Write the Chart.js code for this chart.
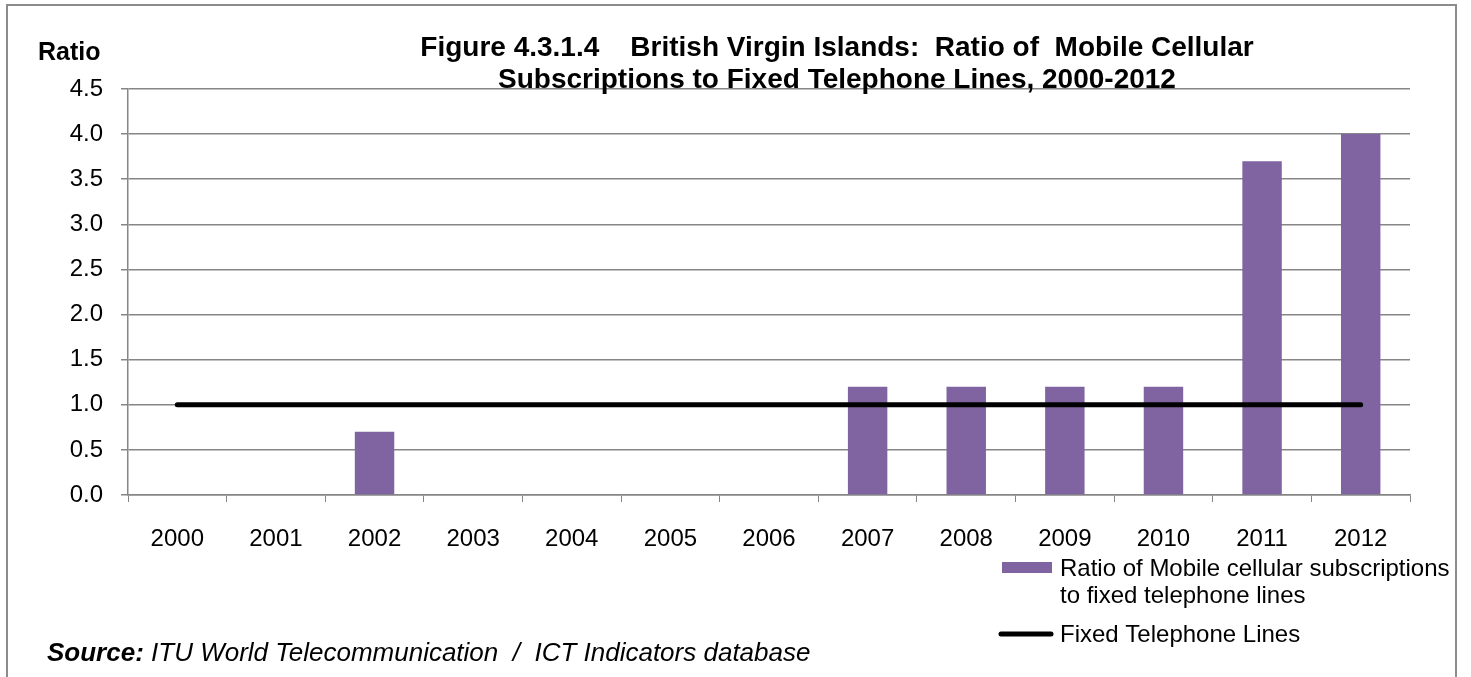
<!DOCTYPE html>
<html>
<head>
<meta charset="utf-8">
<script src="https://cdn.jsdelivr.net/npm/chart.js@4"></script>
<style>
    html, body { margin: 0; padding: 0; background: #ffffff; }
    #wrap { position: relative; width: 1471px; height: 677px; }
</style>
</head>
<body>
<div id="wrap"><canvas id="chart" width="1471" height="677"></canvas></div>
<script>
const YEARS = ["2000", "2001", "2002", "2003", "2004", "2005", "2006",
        "2007", "2008", "2009", "2010", "2011", "2012"],
    MOBILE_RATIO = [null, null, 0.7, null, null, null, null, 1.2, 1.2, 1.2, 1.2, 3.7, 4.0],
    FIXED_LINES = [1, 1, 1, 1, 1, 1, 1, 1, 1, 1, 1, 1, 1],
    Y_TICKS = [0, 0.5, 1, 1.5, 2, 2.5, 3, 3.5, 4, 4.5];

const TITLE_LINES = [
        "Figure 4.3.1.4    British Virgin Islands:  Ratio of  Mobile Cellular",
        "Subscriptions to Fixed Telephone Lines, 2000-2012",
    ],
    LABEL_Y_AXIS = "Ratio",
    LABEL_BAR = ["Ratio of Mobile cellular subscriptions", "to fixed telephone lines"],
    LABEL_LINE = "Fixed Telephone Lines",
    SOURCE_BOLD = "Source:",
    SOURCE_TEXT = " ITU World Telecommunication  /  ICT Indicators database";

const BAR_COLOR = "#8064a2",
    LINE_COLOR = "#000000",
    GRID_COLOR = "#868686",
    TEXT_COLOR = "#000000",
    FONT = "'Liberation Sans', Arial, sans-serif";

Chart.defaults.font.family = FONT;
Chart.defaults.color = TEXT_COLOR;

// frame, title, axis label, legend and source line
const decorations = {
    id: "decorations",
    beforeDraw(chart) {
        const ctx = chart.ctx;
        ctx.save();
        ctx.strokeStyle = "#8c8c8c";
        ctx.lineWidth = 2;
        ctx.beginPath();
        ctx.moveTo(7, 690);
        ctx.lineTo(7, 5);
        ctx.lineTo(1456, 5);
        ctx.lineTo(1456, 690);
        ctx.stroke();
        ctx.restore();
    },
    afterDraw(chart) {
        const ctx = chart.ctx;
        ctx.save();
        ctx.fillStyle = TEXT_COLOR;
        ctx.textBaseline = "alphabetic";

        ctx.font = "bold 28px " + FONT;
        ctx.textAlign = "center";
        ctx.fillText(TITLE_LINES[0], 837, 56);
        ctx.fillText(TITLE_LINES[1], 837, 88);

        ctx.font = "bold 25px " + FONT;
        ctx.textAlign = "left";
        ctx.fillText(LABEL_Y_AXIS, 38, 60);

        // legend
        ctx.fillStyle = BAR_COLOR;
        ctx.fillRect(1002, 562, 50, 11);
        ctx.strokeStyle = LINE_COLOR;
        ctx.lineWidth = 5;
        ctx.lineCap = "round";
        ctx.beginPath();
        ctx.moveTo(1001, 634);
        ctx.lineTo(1051, 634);
        ctx.stroke();

        ctx.fillStyle = TEXT_COLOR;
        ctx.font = "24px " + FONT;
        ctx.fillText(LABEL_BAR[0], 1060, 576);
        ctx.fillText(LABEL_BAR[1], 1060, 603);
        ctx.fillText(LABEL_LINE, 1060, 642);

        // source
        ctx.font = "italic bold 26px " + FONT;
        ctx.fillText(SOURCE_BOLD, 47, 661);
        const w = ctx.measureText(SOURCE_BOLD).width;
        ctx.font = "italic 26px " + FONT;
        ctx.fillText(SOURCE_TEXT, 47 + w, 661);
        ctx.restore();
    },
};

new Chart(document.getElementById("chart"), {
    data: {
        labels: YEARS,
        datasets: [
            {
                type: "line",
                label: LABEL_LINE,
                data: FIXED_LINES,
                borderColor: LINE_COLOR,
                borderWidth: 5,
                borderCapStyle: "round",
                pointRadius: 0,
                tension: 0,
                order: 0,
            },
            {
                type: "bar",
                label: LABEL_BAR.join(" "),
                data: MOBILE_RATIO,
                backgroundColor: BAR_COLOR,
                borderWidth: 0,
                categoryPercentage: 1,
                barPercentage: 0.4,
                order: 1,
            },
        ],
    },
    options: {
        responsive: false,
        animation: false,
        events: [],
        layout: {
            padding: { left: 0, right: 61, top: 89, bottom: 0 },
        },
        plugins: {
            legend: { display: false },
            title: { display: false },
            tooltip: { enabled: false },
        },
        scales: {
            x: {
                offset: true,
                grid: {
                    offset: true,
                    drawOnChartArea: false,
                    color: GRID_COLOR,
                    tickLength: 7,
                },
                border: { color: GRID_COLOR, width: 1.5 },
                ticks: {
                    font: { size: 24 },
                    color: TEXT_COLOR,
                    padding: 23,
                    maxRotation: 0,
                },
                afterFit(scale) {
                    scale.height = 182;
                },
            },
            y: {
                min: 0,
                max: 4.5,
                afterBuildTicks(scale) {
                    scale.ticks = Y_TICKS.map((v) => ({ value: v }));
                },
                grid: {
                    color: GRID_COLOR,
                    lineWidth: 1.5,
                    tickLength: 7,
                },
                border: { color: GRID_COLOR, width: 1.5 },
                ticks: {
                    font: { size: 24 },
                    color: TEXT_COLOR,
                    padding: 18,
                    callback: (v) => Number(v).toFixed(1),
                },
                afterFit(scale) {
                    scale.width = 128;
                },
            },
        },
    },
    plugins: [decorations],
});
</script>
</body>
</html>
